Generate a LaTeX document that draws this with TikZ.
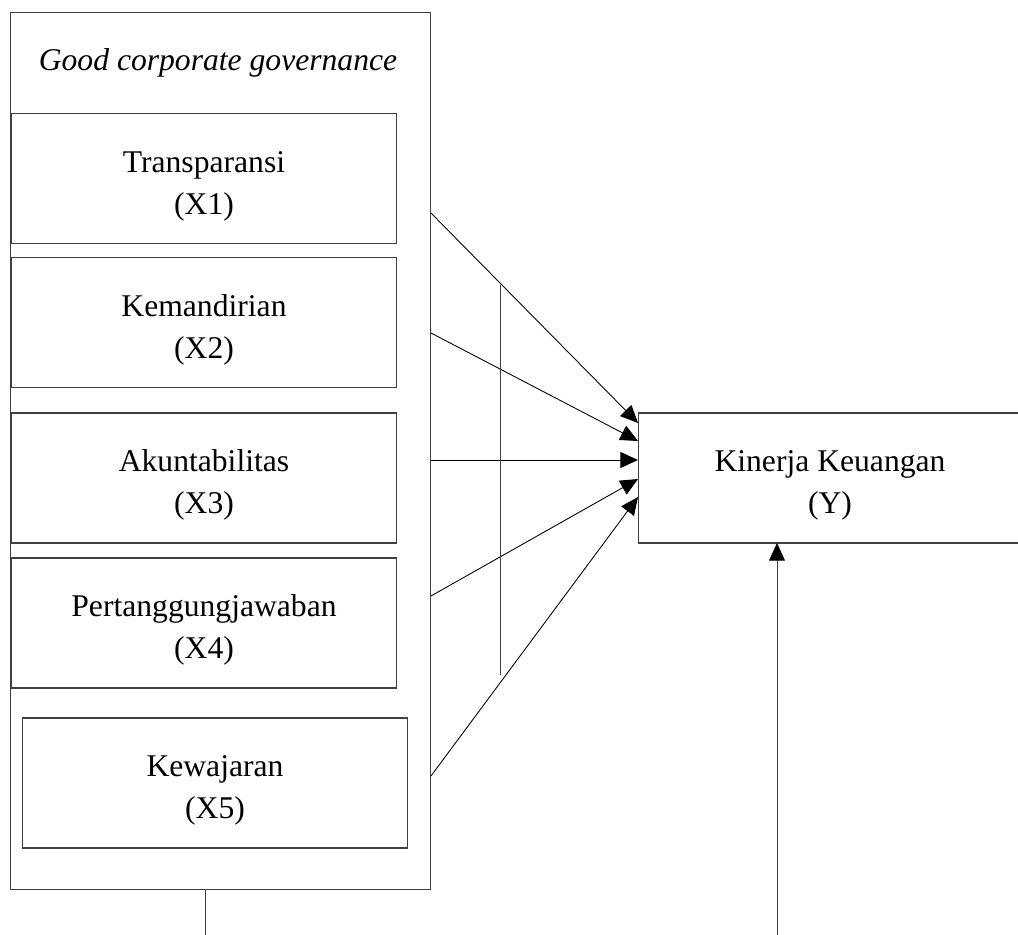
\documentclass[tikz,border=0pt]{standalone}
\usepackage{fontspec}
\setmainfont{Liberation Serif}
\usetikzlibrary{arrows.meta, positioning}

\newcommand{\varlab}[2]{\rule{0pt}{1.15em}#1\\(#2)}

\begin{document}
\begin{tikzpicture}[
        x=0.02cm, y=-0.02cm,
        box/.style={draw=black!75, inner sep=0pt, outer sep=0pt, align=center, line width=0.6pt,
            minimum width=7.72cm, minimum height=2.6cm, font=\fontsize{18}{24}\selectfont},
        arr/.style={-{Triangle[length=10pt, width=9pt, color=black]}, line width=0.5pt}
    ]
    \useasboundingbox (0,0) rectangle (1018,935);
    \clip (0,0) rectangle (1018,935);

    % Outer box with title
    \node[box, minimum width=8.41cm, minimum height=17.56cm] (gcg) at (220.75,451) {};
    \node[font=\itshape\fontsize{18}{22}\selectfont] (title) at (218,63) {Good corporate governance};

    % Nodes for variables
    \node[box] (x1) at (204,178.5) {\varlab{Transparansi}{X1}};
    \node[box] (x2) at (204,322.5) {\varlab{Kemandirian}{X2}};
    \node[box] (x3) at (204,478) {\varlab{Akuntabilitas}{X3}};
    \node[box] (x4) at (204,623) {\varlab{Pertanggungjawaban}{X4}};
    \node[box] (x5) at (215,783) {\varlab{Kewajaran}{X5}};
    \node[box, minimum width=7.68cm] (ky) at (830,478) {\varlab{Kinerja Keuangan}{Y}};

    % Arrows to Y
    \foreach \i/\a/\b in {1/213/423, 2/333/441, 3/460/460, 4/596/479, 5/776/497} {
        \path (gcg.east) ++(0,\a-451) coordinate (s\i);
        \path (ky.west) ++(0,\b-478) coordinate (e\i);
        \draw[arr] (s\i) -- (e\i);
    }

    % Vertical line
    \coordinate (v1) at (500,285);
    \coordinate (v2) at (500,675);
    \draw[black!75, line width=0.5pt] (v1) -- (v2);

    % Bottom lines
    \coordinate (gout) at (205,935);
    \coordinate (yin) at (777,935);
    \draw[black!75, line width=0.5pt] (gout |- gcg.south) -- (gout);
    \draw[arr, black!75] (yin) -- (yin |- ky.south);

\end{tikzpicture}
\end{document}
